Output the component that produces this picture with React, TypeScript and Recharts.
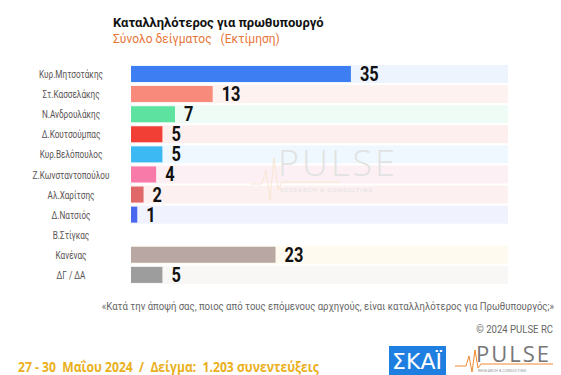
import { BarChart, Bar, XAxis, YAxis, Cell, LabelList } from "recharts";

const leaders = [
  "Κυρ.Μητσοτάκης",
  "Στ.Κασσελάκης",
  "Ν.Ανδρουλάκης",
  "Δ.Κουτσούμπας",
  "Κυρ.Βελόπουλος",
  "Ζ.Κωνσταντοπούλου",
  "Αλ.Χαρίτσης",
  "Δ.Νατσιός",
  "Β.Στίγκας",
  "Κανένας",
  "ΔΓ / ΔΑ",
];

const shares = [35, 13, 7, 5, 5, 4, 2, 1, 0, 23, 5];

const barColors = [
  "#3d7ff2",
  "#f88a7c",
  "#5ee2a0",
  "#f23f36",
  "#3cb9f2",
  "#f77aa8",
  "#e06868",
  "#4a68ee",
  "#f5c542",
  "#b8a7a2",
  "#9d9d9d",
];

const bandColors = [
  "#eef4fd",
  "#fdf2f0",
  "#effcf5",
  "#fdefee",
  "#eef8fe",
  "#fdf0f4",
  "#fcf0f0",
  "#f0f2fd",
  "#fefaf0",
  "#f8f7f6",
  "#f5f5f5",
];

const data = leaders.map((name, i) => ({ name, value: shares[i] }));

const font = "Roboto, sans-serif";

export default function App() {
  return (
    <div
      style={{
        position: "absolute",
        left: 0,
        top: 0,
        width: 561,
        height: 375,
        background: "#fff",
        overflow: "hidden",
        fontFamily: font,
      }}
    >
      <div
        style={{
          position: "absolute",
          left: 113,
          top: 15,
          fontSize: 13,
          fontWeight: 700,
          color: "#111",
        }}
      >
        Καταλληλότερος για πρωθυπουργό
      </div>
      <div
        style={{
          position: "absolute",
          left: 113,
          top: 32,
          fontSize: 12,
          color: "#e8763a",
          whiteSpace: "pre",
        }}
      >
        {"Σύνολο δείγματος   (Εκτίμηση)"}
      </div>

      <BarChart
        width={561}
        height={375}
        data={data}
        layout="vertical"
        margin={{ top: 64, right: 53, bottom: 90, left: 0 }}
        barSize={16}
        style={{ position: "absolute", left: 0, top: 0 }}
      >
        <XAxis type="number" domain={[0, 60]} hide />
        <YAxis
          type="category"
          dataKey="name"
          width={131}
          axisLine={false}
          tickLine={false}
          interval={0}
          tick={(p: any) => (
            <text
              transform={`translate(71,${p.y}) scale(0.82,1)`}
              dy={4}
              textAnchor="middle"
              fontSize={10}
              fill="#5a5353"
              fontFamily={font}
            >
              {p.payload.value}
            </text>
          )}
        />
        <Bar
          dataKey="value"
          isAnimationActive={false}
          background={(p: any) => (
            <rect
              key={`bg-${p.index}`}
              x={p.x}
              y={p.y - 1}
              width={p.width}
              height={p.height + 2}
              fill={bandColors[p.index]}
            />
          )}
        >
          {data.map((d, i) => (
            <Cell key={d.name} fill={barColors[i]} />
          ))}
          <LabelList
            dataKey="value"
            content={(p: any) =>
              p.value > 0 ? (
                <text
                  transform={`translate(${p.x + p.width + 9},${p.y + p.height / 2 + 7}) scale(0.82,1)`}
                  fontSize={20}
                  fontWeight={700}
                  fill="#111"
                  fontFamily={font}
                >
                  {p.value}
                </text>
              ) : null
            }
          />
        </Bar>
      </BarChart>

      {/* watermark */}
      <svg
        width={561}
        height={375}
        style={{ position: "absolute", left: 0, top: 0, pointerEvents: "none" }}
      >
        <polyline
          points="250,184 262,184 266,170 270,200 274,158 278,190 282,182 340,182"
          fill="none"
          stroke="#f8e6d2"
          strokeWidth={1}
        />
        <text
          x={278}
          y={176}
          fontSize={36}
          fill="#e2e2e2"
          fontFamily="'DejaVu Sans ExtraLight', 'Open Sans', sans-serif"
          fontWeight={300}
          letterSpacing={3}
        >
          PULSE
        </text>
        <text
          x={280}
          y={192}
          fontSize={6}
          fill="#e2e2e2"
          letterSpacing={1}
          fontFamily={font}
        >
          RESEARCH &amp; CONSULTING
        </text>

        {/* bottom logos */}
        <rect x={389} y={346} width={57} height={32} fill="#1f7fe0" />
        <text
          x={417}
          y={369}
          textAnchor="middle"
          fontSize={22}
          fill="#fff"
          fontFamily="'DejaVu Sans', sans-serif"
        >
          ΣΚΑΪ
        </text>
        <polyline
          points="455,366 466,366 469,356 472,372 475,350 478,368 481,364 553,364"
          fill="none"
          stroke="#f08a30"
          strokeWidth={1}
        />
        <text
          x={476}
          y={362}
          fontSize={22}
          fill="#777"
          fontFamily="'DejaVu Sans ExtraLight', 'Open Sans', sans-serif"
          letterSpacing={2}
        >
          PULSE
        </text>
        <text x={478} y={372} fontSize={4} fill="#999" fontFamily={font}>
          RESEARCH &amp; CONSULTING
        </text>

        <text
          transform="translate(554,310) scale(0.87,1)"
          textAnchor="end"
          fontSize={11}
          fill="#666"
          fontFamily={font}
        >
          «Κατά την άποψή σας, ποιος από τους επόμενους αρχηγούς, είναι καταλληλότερος για Πρωθυπουργός;»
        </text>
        <text
          transform="translate(553,333) scale(0.87,1)"
          textAnchor="end"
          fontSize={11}
          fill="#666"
          fontFamily={font}
        >
          © 2024 PULSE RC
        </text>
        <text
          transform="translate(18,372) scale(0.9,1)"
          fontSize={13.5}
          fontWeight={700}
          fill="#eab01c"
          fontFamily="'Open Sans', sans-serif"
          xmlSpace="preserve"
        >
          27 - 30  Μαΐου 2024  /  Δείγμα:  1.203 συνεντεύξεις
        </text>
      </svg>
    </div>
  );
}
